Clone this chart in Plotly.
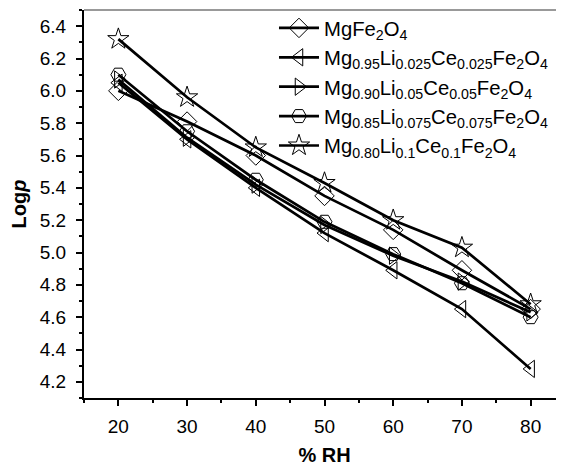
import plotly.graph_objects as go

rh = [20, 30, 40, 50, 60, 70, 80]
names = [
    "MgFe<sub>2</sub>O<sub>4</sub>",
    "Mg<sub>0.95</sub>Li<sub>0.025</sub>Ce<sub>0.025</sub>Fe<sub>2</sub>O<sub>4</sub>",
    "Mg<sub>0.90</sub>Li<sub>0.05</sub>Ce<sub>0.05</sub>Fe<sub>2</sub>O<sub>4</sub>",
    "Mg<sub>0.85</sub>Li<sub>0.075</sub>Ce<sub>0.075</sub>Fe<sub>2</sub>O<sub>4</sub>",
    "Mg<sub>0.80</sub>Li<sub>0.1</sub>Ce<sub>0.1</sub>Fe<sub>2</sub>O<sub>4</sub>",
]
logp_mgfe2o4 = [6.00, 5.81, 5.60, 5.35, 5.14, 4.89, 4.65]
logp_li0025 = [6.05, 5.70, 5.40, 5.12, 4.89, 4.65, 4.28]
logp_li005 = [6.07, 5.71, 5.42, 5.17, 4.98, 4.82, 4.63]
logp_li0075 = [6.10, 5.75, 5.45, 5.19, 4.99, 4.81, 4.60]
logp_li01 = [6.32, 5.96, 5.65, 5.43, 5.20, 5.03, 4.68]
series = [logp_mgfe2o4, logp_li0025, logp_li005, logp_li0075, logp_li01]
symbols = ["diamond-open", "triangle-left-open", "triangle-right-open", "hexagon2-open", "star-open"]
sizes = [15, 15, 15, 15, 16]

fig = go.Figure()
for nm, ys, sym, sz in zip(names, series, symbols, sizes):
    fig.add_trace(go.Scatter(
        x=rh, y=ys, name=nm, mode="lines+markers",
        line=dict(color="black", width=2.7),
        marker=dict(symbol=sym, size=sz, color="black", line=dict(color="black", width=1)),
    ))

font = "Liberation Sans, Arial, sans-serif"
fig.add_shape(type="line", xref="paper", yref="paper", x0=0, x1=1, y0=1, y1=1,
              line=dict(color="#777777", width=1.5))
# the page body adds an 8px offset; margins compensate for it
fig.update_layout(
    width=564, height=472,
    margin=dict(l=76, r=7, t=1, b=82),
    paper_bgcolor="white", plot_bgcolor="white",
    font=dict(family=font, color="black", size=19),
    showlegend=True,
    legend=dict(
        x=0.395, y=1.002, xanchor="left", yanchor="top",
        bgcolor="rgba(0,0,0,0)", font=dict(size=20.3, family=font),
        tracegroupgap=0, itemwidth=40,
    ),
    xaxis=dict(
        range=[15, 85], tickvals=[20, 30, 40, 50, 60, 70, 80],
        ticks="outside", ticklen=6, tickwidth=1.5, tickcolor="black",
        minor=dict(tickvals=[15, 25, 35, 45, 55, 65, 75, 85], ticks="outside", ticklen=3, tickcolor="black", tickwidth=1.5),
        showline=True, linecolor="black", linewidth=2, mirror=False,
        showgrid=False, zeroline=False, automargin=False,
        tickfont=dict(size=19), ticklabelstandoff=4,
        title=dict(text="<b>% RH</b>", font=dict(size=20), standoff=12),
    ),
    yaxis=dict(
        range=[4.1, 6.5], tickvals=[4.2, 4.4, 4.6, 4.8, 5.0, 5.2, 5.4, 5.6, 5.8, 6.0, 6.2, 6.4],
        ticktext=["4.2", "4.4", "4.6", "4.8", "5.0", "5.2", "5.4", "5.6", "5.8", "6.0", "6.2", "6.4"],
        ticks="outside", ticklen=6, tickwidth=1.5, tickcolor="black",
        minor=dict(tickvals=[4.1, 4.3, 4.5, 4.7, 4.9, 5.1, 5.3, 5.5, 5.7, 5.9, 6.1, 6.3, 6.5], ticks="outside", ticklen=3, tickcolor="black", tickwidth=1.5),
        showline=True, linecolor="black", linewidth=2, mirror=False,
        showgrid=False, zeroline=False, automargin=False,
        tickfont=dict(size=19), ticklabelstandoff=6,
        title=dict(text="<b>Log<i>p</i></b>", font=dict(size=20), standoff=11),
    ),
)
fig.write_html("out.html")
